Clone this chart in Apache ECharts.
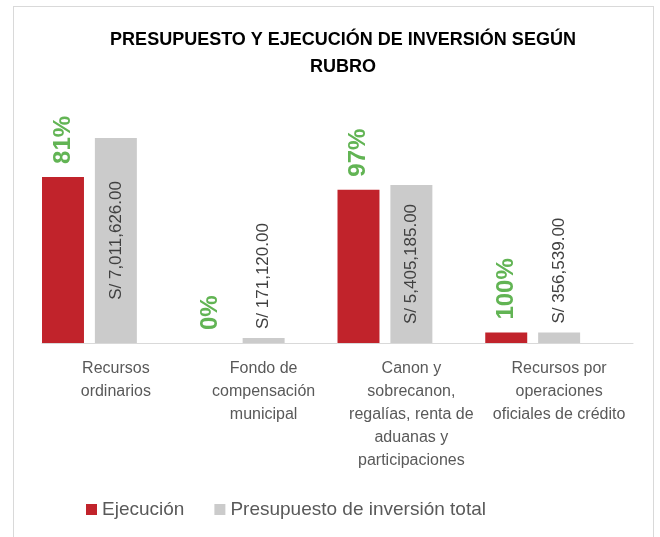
<!DOCTYPE html>
<html>
<head>
<meta charset="utf-8">
<script src="https://cdn.jsdelivr.net/npm/echarts@6/dist/echarts.min.js"></script>
<style>
  html, body { margin: 0; padding: 0; background: #fff; }
  #frame { position: absolute; left: 13px; top: 6px; width: 641px; height: 540px; border: 1px solid #d9d9d9; box-sizing: border-box; }
  #chart { position: absolute; left: 0; top: 0; width: 660px; height: 537px; }
</style>
</head>
<body>
<div id="frame"></div>
<div id="chart"></div>
<script>
const titleText = 'PRESUPUESTO Y EJECUCIÓN DE INVERSIÓN SEGÚN\nRUBRO';
const categories = [
  'Recursos\nordinarios',
  'Fondo de\ncompensación\nmunicipal',
  'Canon y\nsobrecanon,\nregalías, renta de\naduanas y\nparticipaciones',
  'Recursos por\noperaciones\noficiales de crédito'
];
const seriesNames = ['Ejecución', 'Presupuesto de inversión total'];
const ejecucion = [5679417, 0, 5243029, 356539];
const presupuesto = [7011626, 171120, 5405185, 356539];

const font = 'Liberation Sans';
const fmtSoles = v => 'S/ ' + v.toLocaleString('en-US', { minimumFractionDigits: 2, maximumFractionDigits: 2 });
const maxPres = Math.max(...presupuesto);

const option = {
  animation: false,
  textStyle: { fontFamily: font },
  title: {
    text: titleText,
    left: 338,
    top: 22,
    textAlign: 'center',
    textStyle: { fontSize: 18, fontWeight: 'bold', color: '#000', lineHeight: 27, fontFamily: font }
  },
  legend: {
    data: seriesNames,
    left: 81,
    top: 495,
    itemWidth: 11,
    itemHeight: 11,
    itemGap: 30,
    icon: 'rect',
    textStyle: { fontSize: 19, color: '#595959', padding: [0, 0, 0, 0] }
  },
  grid: { left: 42, right: 27, top: 109, bottom: 194 },
  xAxis: {
    type: 'category',
    data: categories,
    axisLine: { lineStyle: { color: '#d9d9d9', width: 1 } },
    axisTick: { show: false },
    axisLabel: { color: '#595959', fontSize: 16, lineHeight: 23, margin: 14, interval: 0 }
  },
  yAxis: {
    type: 'value',
    min: 0,
    max: 8000000,
    show: false,
    splitLine: { show: false }
  },
  series: [
    {
      name: seriesNames[0],
      type: 'bar',
      barGap: '26%',
      barCategoryGap: 0,
      itemStyle: { color: '#c1232b' },
      label: {
        show: true,
        position: 'top',
        rotate: 90,
        align: 'left',
        verticalAlign: 'middle',
        distance: 13,
        color: '#62b454',
        fontSize: 24,
        fontWeight: 'bold',
        formatter: p => Math.round(ejecucion[p.dataIndex] / presupuesto[p.dataIndex] * 100) + '%'
      },
      data: ejecucion
    },
    {
      name: seriesNames[1],
      type: 'bar',
      barGap: '26%',
      barCategoryGap: 0,
      itemStyle: { color: '#cbcbcb' },
      data: presupuesto.map(v => ({
        value: v,
        label: v > maxPres * 0.3
          ? { position: 'inside', align: 'center', distance: 0 }
          : { position: 'top', align: 'left', distance: 9 }
      })),
      label: {
        show: true,
        rotate: 90,
        verticalAlign: 'middle',
        color: '#404040',
        fontSize: 17,
        formatter: p => fmtSoles(p.value)
      }
    },
    {
      name: 'espacio',
      type: 'bar',
      barGap: '26%',
      barCategoryGap: 0,
      silent: true,
      data: [null, null, null, null]
    }
  ]
};

const chart = echarts.init(document.getElementById('chart'), null, { renderer: 'canvas' });
chart.setOption(option);
</script>
</body>
</html>
